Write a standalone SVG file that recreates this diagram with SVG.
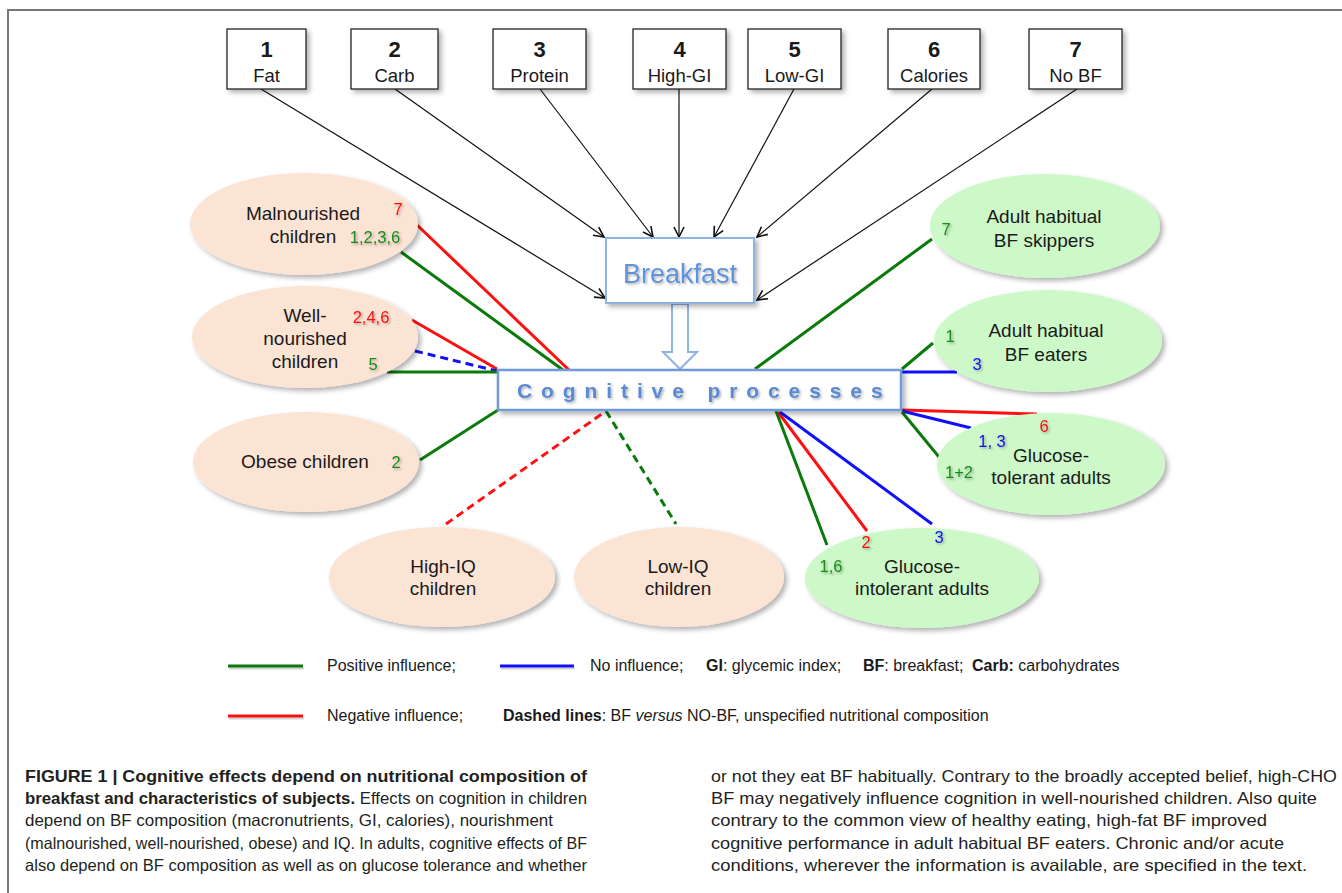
<svg xmlns="http://www.w3.org/2000/svg" width="1342" height="893" viewBox="0 0 1342 893">
<defs>
<style>
text{font-family:"Liberation Sans",Arial,sans-serif;fill:#1a1a1a}
.box{fill:#fff;stroke:#222;stroke-width:1.3}
.num{font-size:22px;font-weight:bold;text-anchor:middle}
.lbl{font-size:18.5px;text-anchor:middle}
.nt{font-size:19px;text-anchor:middle}
.peach{fill:#fce4d5}
.mint{fill:#cdf8c8}
.n{font-size:16.5px;text-anchor:middle}
.g{fill:#1a8a1a}
.r{fill:#ff1010}
.b{fill:#1010ff}
.arr{stroke:#111;stroke-width:1.2;fill:none;marker-end:url(#ah)}
.lg{stroke:#0a7a0a;stroke-width:3;fill:none}
.lr{stroke:#ff1010;stroke-width:3;fill:none}
.lb{stroke:#1010ff;stroke-width:3;fill:none}
.dash{stroke-dasharray:8 5}
.leg{font-size:16px}
.cap{font-size:16.5px;fill:#231f20}
</style>
<filter id="sh" x="-20%" y="-20%" width="150%" height="160%">
<feDropShadow dx="3" dy="3" stdDeviation="2.5" flood-color="#000" flood-opacity="0.3"/>
</filter>
<filter id="ts" x="-30%" y="-30%" width="160%" height="160%">
<feDropShadow dx="1.5" dy="1.5" stdDeviation="1.2" flood-color="#000" flood-opacity="0.3"/>
</filter>
<marker id="ah" viewBox="0 0 12 12" refX="11" refY="6" markerWidth="12" markerHeight="12" markerUnits="userSpaceOnUse" orient="auto">
<path d="M1,1 L11,6 L1,11" fill="none" stroke="#111" stroke-width="1.6"/>
</marker>
</defs>
<rect width="1342" height="893" fill="#fff"/>
<g id="frame" stroke="#777" stroke-width="2" fill="none">
<path d="M8,893 L8,10 L1342,10"/>
</g>

<g id="connectors">
<line class="arr" x1="261" y1="89" x2="605" y2="298"/>
<line class="arr" x1="395" y1="89" x2="604" y2="237"/>
<line class="arr" x1="540" y1="89" x2="653" y2="237"/>
<line class="arr" x1="679" y1="89" x2="679" y2="237"/>
<line class="arr" x1="794" y1="89" x2="714" y2="237"/>
<line class="arr" x1="932" y1="89" x2="757" y2="237"/>
<line class="arr" x1="1077" y1="89" x2="757" y2="300"/>
<path d="M672,304 L688,304 L688,352 L697,352 L680,369 L663,352 L672,352 Z" fill="#fff" stroke="#8eb4e3" stroke-width="2"/>
<line class="lr" x1="417" y1="225" x2="569" y2="370"/>
<line class="lg" x1="401" y1="252" x2="563" y2="370"/>
<line class="lr" x1="412" y1="320" x2="497" y2="369"/>
<line class="lb dash" x1="415" y1="351" x2="497" y2="371"/>
<line class="lg" x1="387" y1="372" x2="498" y2="372"/>
<line class="lg" x1="420" y1="460" x2="498" y2="410"/>
<line class="lr dash" x1="446" y1="524" x2="606" y2="411"/>
<line class="lg dash" x1="606" y1="411" x2="676" y2="524"/>
<line class="lg" x1="776" y1="411" x2="827" y2="545"/>
<line class="lr" x1="778" y1="412" x2="867" y2="531"/>
<line class="lb" x1="780" y1="412" x2="932" y2="524"/>
<line class="lg" x1="755" y1="369" x2="932" y2="239"/>
<line class="lg" x1="902" y1="369" x2="933" y2="343"/>
<line class="lb" x1="902" y1="372" x2="957" y2="372"/>
<line class="lr" x1="902" y1="410" x2="1037" y2="414"/>
<line class="lb" x1="902" y1="411" x2="971" y2="428"/>
<line class="lg" x1="902" y1="412" x2="939" y2="457"/>
</g>

<g id="box1"><rect class="box" x="227" y="29" width="79" height="60" filter="url(#sh)"/><text class="num" x="266.5" y="57">1</text><text class="lbl" x="266.5" y="82">Fat</text></g>
<g id="box2"><rect class="box" x="351" y="29" width="87" height="60" filter="url(#sh)"/><text class="num" x="394.5" y="57">2</text><text class="lbl" x="394.5" y="82">Carb</text></g>
<g id="box3"><rect class="box" x="493" y="29" width="93" height="60" filter="url(#sh)"/><text class="num" x="539.5" y="57">3</text><text class="lbl" x="539.5" y="82">Protein</text></g>
<g id="box4"><rect class="box" x="633" y="29" width="93" height="60" filter="url(#sh)"/><text class="num" x="679.5" y="57">4</text><text class="lbl" x="679.5" y="82">High-GI</text></g>
<g id="box5"><rect class="box" x="748" y="29" width="93" height="60" filter="url(#sh)"/><text class="num" x="794.5" y="57">5</text><text class="lbl" x="794.5" y="82">Low-GI</text></g>
<g id="box6"><rect class="box" x="888" y="29" width="92" height="60" filter="url(#sh)"/><text class="num" x="934" y="57">6</text><text class="lbl" x="934" y="82">Calories</text></g>
<g id="box7"><rect class="box" x="1029" y="29" width="93" height="60" filter="url(#sh)"/><text class="num" x="1075.5" y="57">7</text><text class="lbl" x="1075.5" y="82">No BF</text></g>

<g id="breakfast"><rect x="606" y="238" width="148" height="65" fill="#fff" stroke="#8eb4e3" stroke-width="2" filter="url(#sh)"/><text x="680" y="283" text-anchor="middle" font-size="27" style="fill:#5f93dc" filter="url(#ts)">Breakfast</text></g>

<g id="cognitive"><rect x="498" y="370" width="403" height="40" fill="#fff" stroke="#6f9bd6" stroke-width="2.5" filter="url(#sh)"/><text x="517" y="398" font-size="21" font-weight="bold" letter-spacing="8.9" style="fill:#5a8ad4" filter="url(#ts)">Cognitive processes</text></g>

<g id="malnourished"><ellipse class="peach" cx="304" cy="224" rx="114" ry="51" filter="url(#sh)"/><text class="nt" x="303" y="220">Malnourished</text><text class="nt" x="303" y="243">children</text><text class="n r" x="398" y="215" filter="url(#ts)">7</text><text class="n g" x="375" y="243" filter="url(#ts)">1,2,3,6</text></g>
<g id="wellnourished"><ellipse class="peach" cx="305" cy="337" rx="113" ry="51" filter="url(#sh)"/><text class="nt" x="305" y="322">Well-</text><text class="nt" x="305" y="345">nourished</text><text class="nt" x="305" y="368">children</text><text class="n r" x="371" y="323" filter="url(#ts)">2,4,6</text><text class="n g" x="373" y="370" filter="url(#ts)">5</text></g>
<g id="obese"><ellipse class="peach" cx="306" cy="462" rx="113" ry="50" filter="url(#sh)"/><text class="nt" x="305" y="468">Obese children</text><text class="n g" x="396" y="468" filter="url(#ts)">2</text></g>
<g id="highiq"><ellipse class="peach" cx="442" cy="577" rx="113" ry="50" filter="url(#sh)"/><text class="nt" x="443" y="573">High-IQ</text><text class="nt" x="443" y="595">children</text></g>
<g id="lowiq"><ellipse class="peach" cx="679" cy="577" rx="105" ry="50" filter="url(#sh)"/><text class="nt" x="678" y="573">Low-IQ</text><text class="nt" x="678" y="595">children</text></g>
<g id="glucoseintolerant"><ellipse class="mint" cx="922" cy="578" rx="117" ry="50" filter="url(#sh)"/><text class="nt" x="922" y="573">Glucose-</text><text class="nt" x="922" y="595">intolerant adults</text><text class="n g" x="831" y="572" filter="url(#ts)">1,6</text><text class="n r" x="866" y="548" filter="url(#ts)">2</text><text class="n b" x="939" y="543" filter="url(#ts)">3</text></g>
<g id="skippers"><ellipse class="mint" cx="1045" cy="226" rx="115" ry="52" filter="url(#sh)"/><text class="nt" x="1044" y="223">Adult habitual</text><text class="nt" x="1044" y="247">BF skippers</text><text class="n g" x="946" y="235" filter="url(#ts)">7</text></g>
<g id="eaters"><ellipse class="mint" cx="1048" cy="341" rx="114" ry="51" filter="url(#sh)"/><text class="nt" x="1046" y="337">Adult habitual</text><text class="nt" x="1046" y="361">BF eaters</text><text class="n g" x="950" y="342" filter="url(#ts)">1</text><text class="n b" x="977" y="370" filter="url(#ts)">3</text></g>
<g id="glucosetolerant"><ellipse class="mint" cx="1051" cy="464" rx="114" ry="51" filter="url(#sh)"/><text class="nt" x="1051" y="462">Glucose-</text><text class="nt" x="1051" y="484">tolerant adults</text><text class="n r" x="1044" y="432" filter="url(#ts)">6</text><text class="n b" x="992" y="447" filter="url(#ts)">1, 3</text><text class="n g" x="959" y="478" filter="url(#ts)">1+2</text></g>

<g id="legend">
<line class="lg" x1="228" y1="666" x2="303" y2="666"/>
<line x1="229" y1="668.5" x2="304" y2="668.5" stroke="#000" stroke-opacity="0.18" stroke-width="2"/>
<text class="leg" x="327" y="671">Positive influence;</text>
<line class="lb" x1="500" y1="666" x2="574" y2="666"/>
<line x1="501" y1="668.5" x2="575" y2="668.5" stroke="#000" stroke-opacity="0.18" stroke-width="2"/>
<text class="leg" x="590" y="671">No influence;</text>
<text class="leg" x="706" y="671"><tspan font-weight="bold">GI</tspan>: glycemic index;</text>
<text class="leg" x="863" y="671"><tspan font-weight="bold">BF</tspan>: breakfast;</text>
<text class="leg" x="972" y="671"><tspan font-weight="bold">Carb:</tspan> carbohydrates</text>
<line class="lr" x1="228" y1="716" x2="303" y2="716"/>
<line x1="229" y1="718.5" x2="304" y2="718.5" stroke="#000" stroke-opacity="0.18" stroke-width="2"/>
<text class="leg" x="327" y="721">Negative influence;</text>
<text class="leg" x="503" y="721"><tspan font-weight="bold">Dashed lines</tspan>: BF <tspan font-style="italic">versus</tspan> NO-BF, unspecified nutritional composition</text>
</g>

<g id="caption">
<text class="cap" x="25" y="782" font-weight="bold" textLength="562" lengthAdjust="spacingAndGlyphs">FIGURE 1 | Cognitive effects depend on nutritional composition of</text>
<text class="cap" x="25" y="804" textLength="562" lengthAdjust="spacingAndGlyphs"><tspan font-weight="bold">breakfast and characteristics of subjects.</tspan> Effects on cognition in children</text>
<text class="cap" x="25" y="826" textLength="528" lengthAdjust="spacingAndGlyphs">depend on BF composition (macronutrients, GI, calories), nourishment</text>
<text class="cap" x="25" y="849" textLength="562" lengthAdjust="spacingAndGlyphs">(malnourished, well-nourished, obese) and IQ. In adults, cognitive effects of BF</text>
<text class="cap" x="25" y="871" textLength="562" lengthAdjust="spacingAndGlyphs">also depend on BF composition as well as on glucose tolerance and whether</text>
<text class="cap" x="711" y="782" textLength="626" lengthAdjust="spacingAndGlyphs">or not they eat BF habitually. Contrary to the broadly accepted belief, high-CHO</text>
<text class="cap" x="711" y="804" textLength="606" lengthAdjust="spacingAndGlyphs">BF may negatively influence cognition in well-nourished children. Also quite</text>
<text class="cap" x="711" y="826" textLength="556" lengthAdjust="spacingAndGlyphs">contrary to the common view of healthy eating, high-fat BF improved</text>
<text class="cap" x="711" y="849" textLength="573" lengthAdjust="spacingAndGlyphs">cognitive performance in adult habitual BF eaters. Chronic and/or acute</text>
<text class="cap" x="711" y="871" textLength="596" lengthAdjust="spacingAndGlyphs">conditions, wherever the information is available, are specified in the text.</text>
</g>
</svg>
